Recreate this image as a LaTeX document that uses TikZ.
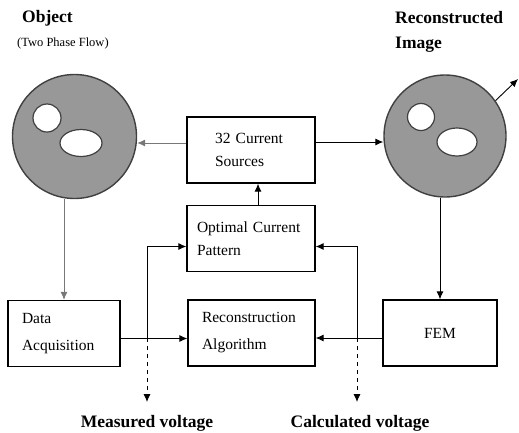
\documentclass[tikz,border=0pt]{standalone}
\usepackage{fontspec}
\setmainfont{Liberation Serif}
\usepackage{tikz}
\usetikzlibrary{arrows.meta,shapes,positioning,calc}
\usepackage{xcolor}
\definecolor{discgray}{RGB}{152,152,152}
\definecolor{linegray}{RGB}{120,120,120}
\tikzstyle{link} = [line width=0.9pt,-{Latex[length=8pt,width=7pt]},color=black]
\tikzstyle{softlink} = [link,color=linegray]
\tikzstyle{probe} = [link,dash pattern=on 4pt off 4pt]
\tikzstyle{box} = [draw,line width=1.3pt,minimum height=66pt,align=left,font=\fontsize{15.5}{23}\selectfont]
\tikzstyle{disc} = [circle,draw=black!75,line width=1.4pt,fill=discgray]
\tikzstyle{hole} = [draw=black!75,line width=1.2pt,fill=white]
\tikzstyle{title} = [font=\fontsize{17.5}{21}\selectfont\bfseries,inner sep=0pt,anchor=west]

\begin{document}
\begin{tikzpicture}[x=1pt,y=-1pt]
    \useasboundingbox (0,0) rectangle (519,432);

    % Titles
    \node[title] (objA) at (22,18) {Object};
    \node[font=\fontsize{12.5}{15}\selectfont,inner sep=0pt,anchor=west] (objB) at (17,43) {(Two Phase Flow)};
    \node[title] (recA) at (395,18) {Reconstructed};
    \node[title] (recB) at (395,45) {Image};

    % Object and image
    \node[disc,minimum size=124pt] (obj) at (74.5,136.5) {};
    \node[disc,minimum size=122pt] (rec) at (445,136) {};
    \draw[hole] (47,118) ellipse [x radius=14pt, y radius=14pt];
    \draw[hole] (81,143) ellipse [x radius=21pt, y radius=13.5pt];
    \draw[hole] (421,117) ellipse [x radius=13.5pt, y radius=13.5pt];
    \draw[hole] (457,142) ellipse [x radius=20pt, y radius=14pt];

    % Boxes
    \node[box,text width=72pt,inner xsep=28pt] (src) at (251,150) {32 Current\\Sources};
    \node[box,text width=108pt,inner xsep=10pt] (opt) at (251,238.5) {Optimal Current\\Pattern};
    \node[box,text width=99pt,inner xsep=14pt,font=\fontsize{15.5}{27}\selectfont] (alg) at (251.5,333) {Reconstruction\\Algorithm};
    \node[box,text width=84pt,inner xsep=14pt,font=\fontsize{15.5}{27}\selectfont] (daq) at (64,333.5) {Data\\Acquisition};
    \node[box,minimum width=114pt,align=center] (fem) at (440,333) {FEM};

    % Current injection
    \draw[softlink] ([yshift=7pt]src.west) -- ([yshift=7pt]src.west -| obj.east);
    \draw[link] ([yshift=8pt]src.east) -- ([yshift=8pt]src.east -| rec.west);
    \draw[link] ([xshift=7pt]opt.north) -- ([xshift=7pt]src.south);
    \draw[softlink] (obj.south -| daq.north) -- (daq.north);
    \draw[link] (rec.south -| fem.north) -- (fem.north);
    \coordinate (out) at (518,79);
    \draw[link] (rec.35) -- (out);

    % Measured voltage
    \coordinate (mj) at (147,338);
    \coordinate (mv) at (147,402);
    \draw[link] ([yshift=-5pt]daq.east) -- ([yshift=-5pt]daq.east -| alg.west);
    \draw[link] (mj) |- ([yshift=-8pt]opt.west);
    \draw[probe] (mj) -- (mv);
    \node[title,anchor=center] (mlab) at (147,423) {Measured voltage};

    % Calculated voltage
    \coordinate (cj) at (357,338);
    \coordinate (cv) at (357,402);
    \draw[link] ([yshift=-5pt]fem.west) -- ([yshift=-5pt]fem.west -| alg.east);
    \draw[link] (cj) |- ([yshift=-8pt]opt.east);
    \draw[probe] (cj) -- (cv);
    \node[title,anchor=center] (clab) at (360,423) {Calculated voltage};
\end{tikzpicture}
\end{document}
